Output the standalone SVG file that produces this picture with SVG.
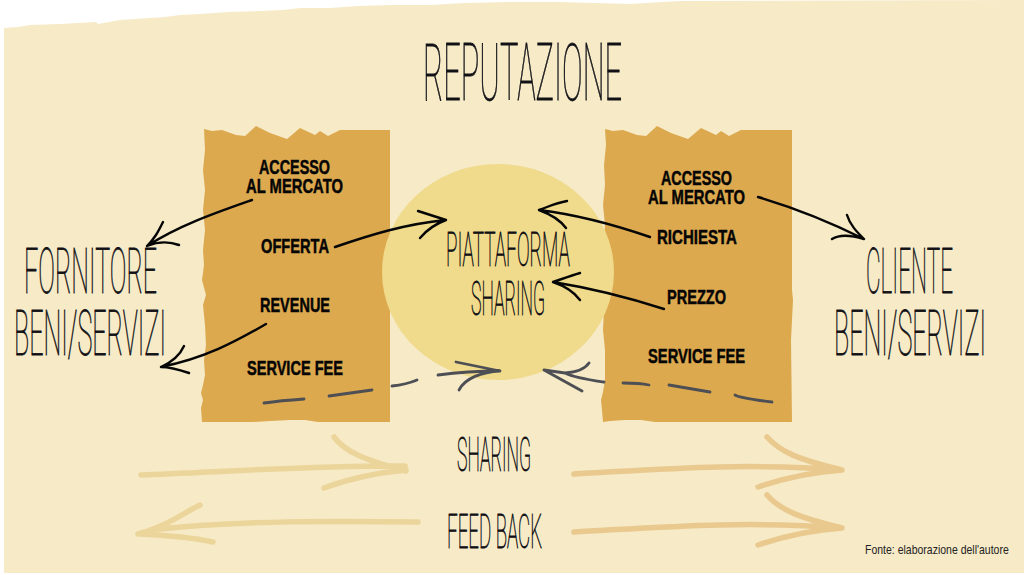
<svg xmlns="http://www.w3.org/2000/svg" width="1024" height="575" viewBox="0 0 1024 575">
<style>
.thin{font-family:Roboto,"Liberation Sans",sans-serif;font-weight:100;fill:#111116;stroke:#111116;stroke-width:.65;vector-effect:non-scaling-stroke}
.bold{font-family:"Liberation Sans",Arial,sans-serif;font-weight:700;font-size:20.5px;fill:#050505;stroke:#050505;stroke-width:.5}
.box{fill:#dca94f}
.k{fill:none;stroke:#060606;stroke-width:2.4;stroke-linecap:round;stroke-linejoin:round}
.g{fill:none;stroke:#4d4f54;stroke-width:2.8;stroke-linecap:round;stroke-linejoin:round}
.p{fill:none;stroke:#ecd59b;stroke-width:5.5;stroke-linecap:round;stroke-linejoin:round}
.o{fill:none;stroke:#e9c98e;stroke-width:5.5;stroke-linecap:round;stroke-linejoin:round}
</style>
<rect width="1024" height="575" fill="#fff"/>
<path id="paper" fill="#f6eac7" d="M4 28L18 27 30 25 60 24 96 22 98 24 120 20 150 18 165 17 180 15 200 14 228 12 260 11 283 10 300 8 330 8 358 6 390 5 430 5 464 3 512 2 560 2 630 4 680 1 1024 0V573H4Z"/>
<g id="box-left"><path class="box" d="M204 129L212 131 222 130 236 135 245 136 256 126 270 133 287 139 300 128 315 135 320 131 328 136 340 130H390V422H318L305 420 290 420 270 421 253 422H202L201 408 203 400 201 393 203 385 205 375 204 360 206 345 205 325 203 305 206 295 202 280 204 265 203 250 205 230 203 210 205 190 203 170 205 150Z"/></g>
<g id="box-right"><path class="box" d="M605 129L613 131 623 130 637 135 646 136 657 126 671 133 688 139 701 128 716 135 721 131 729 136 741 130H792V290L793 300 791 340 792 422H655L641 420 625 420 610 421 603 422 602 410 601 400 603 392 605 380 605 350 603 330 605 290 603 260 605 225 603 205 605 185 604 165 606 145Z"/></g>
<g id="circle"><ellipse cx="498" cy="272" rx="116" ry="108" fill="#f0da8b"/></g>
<g id="connectors">
<path class="k" d="M252 200C215 213 180 225 147 246M163 222C158 232 155 238 147 246C157 242 168 241 179 245"/>
<path class="k" d="M335 247C370 235 405 224 446 220M418 211L446 220C435 224 425 232 420 238"/>
<path class="k" d="M266 324C235 342 205 358 161 367M184 346C180 355 172 362 161 367C170 367 180 370 189 373"/>
<path class="k" d="M650 237C615 225 580 215 539 210M567 201C555 203 548 207 539 210C550 214 560 220 566 228"/>
<path class="k" d="M664 309C630 298 590 288 553 282M580 273C570 276 562 279 553 282C565 286 574 292 580 300"/>
<path class="k" d="M758 197C795 208 830 222 864 239M847 215C850 225 857 232 864 239C850 235 840 234 832 239"/>
<path class="g" d="M264 403C278 401 290 400 304 399M329 396L372 390M392 386C402 385 410 383 417 380M438 375C460 372 480 371 500 371M456 362L500 371C482 372 465 378 459 390"/>
<path class="g" d="M772 402C755 400 740 398 735 395M710 392L669 385M649 385C640 383 630 383 623 383M604 382C590 380 575 378 565 373L544 370M589 363C585 369 578 372 565 373M544 370L582 391"/>
<path class="p" d="M141 475C220 472 320 465 405 466M334 437C345 452 365 460 406 471M324 488C345 480 375 473 406 470"/>
<path class="p" d="M418 522C340 521 240 520 150 530M200 505C180 515 165 527 138 534C160 535 190 537 213 542"/>
<path class="o" d="M574 474C650 470 740 462 842 470M767 437C780 452 800 460 842 470M758 487C785 478 810 472 842 470"/>
<path class="o" d="M574 532C650 528 740 520 842 528M767 495C780 510 800 518 842 528M758 545C785 536 810 530 842 528"/>
</g>
<g id="title"><text class="thin" transform="translate(423 100) scale(.385 1)" font-size="79" textLength="517" lengthAdjust="spacingAndGlyphs">REPUTAZIONE</text></g>
<g id="fornitore"><text class="thin" transform="translate(24 293) scale(.397 1)" font-size="63" textLength="335" lengthAdjust="spacingAndGlyphs">FORNITORE</text><text class="thin" transform="translate(14 355) scale(.413 1)" font-size="63" textLength="368" lengthAdjust="spacingAndGlyphs">BENI/SERVIZI</text></g>
<g id="cliente"><text class="thin" transform="translate(866 293) scale(.355 1)" font-size="63" textLength="245" lengthAdjust="spacingAndGlyphs">CLIENTE</text><text class="thin" transform="translate(834 355) scale(.413 1)" font-size="63" textLength="368" lengthAdjust="spacingAndGlyphs">BENI/SERVIZI</text></g>
<g id="piattaforma"><text class="thin" transform="translate(446 266) scale(.381 1)" font-size="48" textLength="325" lengthAdjust="spacingAndGlyphs">PIATTAFORMA</text><text class="thin" transform="translate(471 315) scale(.363 1)" font-size="48" textLength="204" lengthAdjust="spacingAndGlyphs">SHARING</text></g>
<g id="sharing"><text class="thin" transform="translate(457 471) scale(.363 1)" font-size="48" textLength="204" lengthAdjust="spacingAndGlyphs">SHARING</text></g>
<g id="feedback"><text class="thin" transform="translate(447 548) scale(.388 1)" font-size="48" textLength="245" lengthAdjust="spacingAndGlyphs">FEED BACK</text></g>
<g id="labels-left">
<text class="bold" transform="translate(259 174) scale(.703 1)" textLength="101" lengthAdjust="spacingAndGlyphs">ACCESSO</text>
<text class="bold" transform="translate(246 193) scale(.708 1)" textLength="137" lengthAdjust="spacingAndGlyphs">AL MERCATO</text>
<text class="bold" transform="translate(261 253) scale(.701 1)" textLength="97" lengthAdjust="spacingAndGlyphs">OFFERTA</text>
<text class="bold" transform="translate(260 312) scale(.707 1)" textLength="99" lengthAdjust="spacingAndGlyphs">REVENUE</text>
<text class="bold" transform="translate(247 375) scale(.75 1)" textLength="128" lengthAdjust="spacingAndGlyphs">SERVICE FEE</text>
</g>
<g id="labels-right">
<text class="bold" transform="translate(661 185) scale(.703 1)" textLength="101" lengthAdjust="spacingAndGlyphs">ACCESSO</text>
<text class="bold" transform="translate(648 204) scale(.708 1)" textLength="137" lengthAdjust="spacingAndGlyphs">AL MERCATO</text>
<text class="bold" transform="translate(657 244) scale(.724 1)" textLength="110.5" lengthAdjust="spacingAndGlyphs">RICHIESTA</text>
<text class="bold" transform="translate(667 304) scale(.747 1)" textLength="79" lengthAdjust="spacingAndGlyphs">PREZZO</text>
<text class="bold" transform="translate(648 363) scale(.758 1)" textLength="128" lengthAdjust="spacingAndGlyphs">SERVICE FEE</text>
</g>
<g id="source"><text transform="translate(865 554) scale(.91 1)" font-family="'Liberation Sans',Arial,sans-serif" font-size="12" fill="#222" textLength="158" lengthAdjust="spacingAndGlyphs">Fonte: elaborazione dell'autore</text></g>
</svg>
